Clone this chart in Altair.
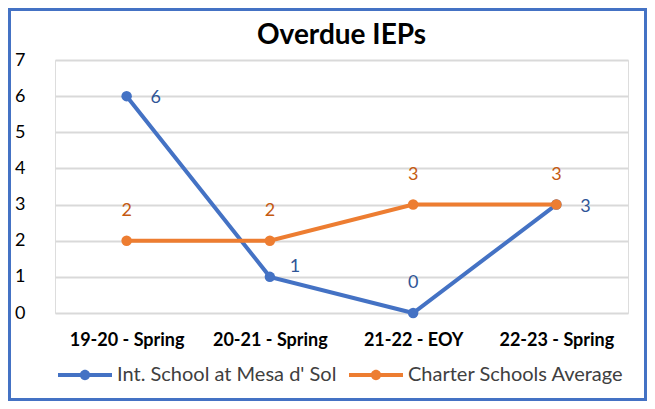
import altair as alt
import pandas as pd

categories = ["19-20 - Spring", "20-21 - Spring", "21-22 - EOY", "22-23 - Spring"]
series_names = ["Int. School at Mesa d' Sol", "Charter Schools Average"]
mesa_values = [6, 1, 0, 3]
charter_values = [2, 2, 3, 3]
line_colors = ["#4472C4", "#ED7D31"]
label_colors = ["#2F5597", "#C55A11"]

rows = []
for s, vals in zip(series_names, [mesa_values, charter_values]):
    for c, v in zip(categories, vals):
        rows.append({"Period": c, "Series": s, "Value": v})
df = pd.DataFrame(rows)

FONT = "Lato"
W, H = 573, 253

x_enc = alt.X("Period:N", sort=categories, scale=alt.Scale(type="point", padding=0.5),
              axis=alt.Axis(title=None, labelAngle=0, domain=False, ticks=False, grid=False,
                            labelFont=FONT, labelFontSize=18, labelFontWeight="bold",
                            labelColor="#000000", labelPadding=18))
y_enc = alt.Y("Value:Q", scale=alt.Scale(domain=[0, 7], nice=False),
              axis=alt.Axis(title=None, values=[0, 1, 2, 3, 4, 5, 6, 7], domain=False, ticks=False,
                            grid=True, gridColor="#D9D9D9", gridWidth=2,
                            labelFont=FONT, labelFontSize=18, labelColor="#000000",
                            labelPadding=30))
color_scale = alt.Scale(domain=series_names, range=line_colors)

legend_path = ("M-1,-0.074H1V0.074H-1Z "
               "M-0.19,0A0.19,0.19 0 1,1 0.19,0A0.19,0.19 0 1,1 -0.19,0Z")
leg = alt.Legend(title=None, orient="none", legendX=3, legendY=288,
                 direction="horizontal", symbolType=legend_path, symbolSize=2916,
                 symbolStrokeWidth=0, symbolOpacity=1, labelFont=FONT,
                 labelFontSize=20, labelColor="#404040", labelOffset=5,
                 columnPadding=12, labelLimit=0, padding=0)
color_enc = alt.Color("Series:N", scale=color_scale, legend=leg)

base = alt.Chart(df).encode(x=x_enc, y=y_enc)

layers = []
for i, s in enumerate(series_names):
    sub = base.transform_filter(alt.datum.Series == s)
    layers.append(sub.mark_line(strokeWidth=4).encode(color=color_enc))
    layers.append(sub.mark_circle(size=110, opacity=1).encode(color=color_enc))

mesa_sub = base.transform_filter(alt.datum.Series == series_names[0])
charter_sub = base.transform_filter(alt.datum.Series == series_names[1])
txt = dict(font=FONT, fontSize=18, align="center", baseline="middle")

layers.append(mesa_sub.transform_filter(
    alt.FieldOneOfPredicate(field="Period", oneOf=[categories[0], categories[3]])
).mark_text(dx=29, dy=2, color=label_colors[0], **txt).encode(text="Value:Q"))
layers.append(mesa_sub.transform_filter(alt.datum.Period == categories[1])
              .mark_text(dx=25, dy=-10, color=label_colors[0], **txt).encode(text="Value:Q"))
layers.append(mesa_sub.transform_filter(alt.datum.Period == categories[2])
              .mark_text(dx=0, dy=-30, color=label_colors[0], **txt).encode(text="Value:Q"))
layers.append(charter_sub.mark_text(dx=0, dy=-30, color=label_colors[1], **txt)
              .encode(text="Value:Q"))

border = alt.Chart(pd.DataFrame({"a": [0]})).mark_rect(
    fill="transparent", stroke="#4472C4", strokeWidth=3
).encode(x=alt.value(-45.5), x2=alt.value(590.5), y=alt.value(-50.5), y2=alt.value(339.5))
layers.append(border)

chart = alt.layer(*layers).properties(
    width=W, height=H,
    title=alt.TitleParams("Overdue IEPs", font=FONT, fontSize=28, fontWeight="bold",
                          color="#000000", anchor="middle", offset=0, dy=42),
    autosize=alt.AutoSizeParams(type="none"),
    padding={"left": 47, "top": 52, "right": 19, "bottom": 88},
).configure_view(stroke=None).configure(background="white")

chart.save("out.html", embed_options={"renderer": "svg", "actions": False})
